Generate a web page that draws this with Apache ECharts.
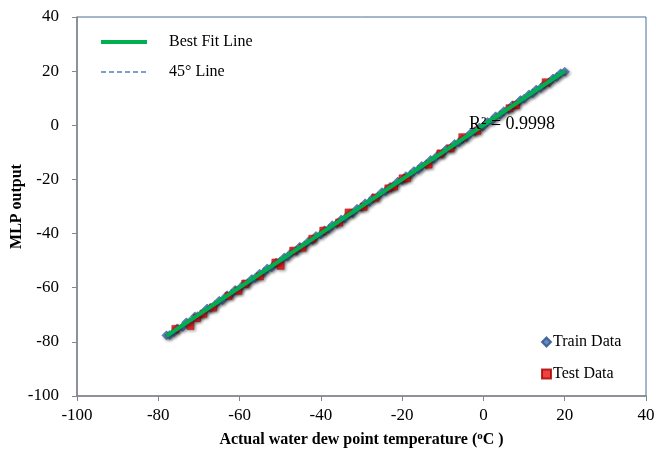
<!DOCTYPE html>
<html>
<head>
<meta charset="utf-8">
<script src="https://cdn.jsdelivr.net/npm/echarts@6/dist/echarts.min.js"></script>
<style>
  html, body { margin: 0; padding: 0; background: #fff; }
  #chart { width: 656px; height: 449px; }
</style>
</head>
<body>
<div id="chart"></div>
<script>
// Axis ticks
const xTicks = [-100, -80, -60, -40, -20, 0, 20, 40];
const yTicks = [-100, -80, -60, -40, -20, 0, 20, 40];

// Training set: [actual, predicted]
const trainData = [
  [-78.0, -77.6], [-77.2, -77.5], [-76.1, -76.4], [-75.3, -75.0], [-74.0, -74.5],
  [-73.1, -72.8], [-72.2, -72.6], [-71.0, -70.6], [-70.3, -70.5], [-69.1, -69.4],
  [-68.0, -67.7], [-67.2, -67.5], [-66.1, -66.4], [-65.0, -64.8], [-64.2, -64.6],
  [-63.1, -62.8], [-62.0, -62.3], [-61.1, -60.8], [-60.2, -60.6], [-59.0, -58.7],
  [-58.1, -58.4], [-57.0, -56.8], [-56.2, -56.5], [-55.1, -54.8], [-54.0, -54.3],
  [-53.2, -52.9], [-52.1, -52.5], [-51.0, -50.7], [-50.1, -50.4], [-49.0, -48.8],
  [-48.2, -48.5], [-47.1, -46.8], [-46.0, -46.3], [-45.2, -44.9], [-44.1, -44.4],
  [-43.0, -42.8], [-42.1, -42.4], [-41.2, -40.9], [-40.0, -40.3], [-39.1, -38.8],
  [-38.0, -38.3], [-37.2, -36.9], [-36.1, -36.4], [-35.0, -34.8], [-34.1, -34.4],
  [-33.0, -32.7], [-32.2, -32.5], [-31.1, -30.8], [-30.0, -30.3], [-29.1, -28.8],
  [-28.0, -28.3], [-27.2, -26.9], [-26.1, -26.4], [-25.0, -24.7], [-24.1, -24.4],
  [-23.0, -22.8], [-22.2, -22.5], [-21.1, -20.8], [-20.0, -20.3], [-19.1, -18.8],
  [-18.0, -18.3], [-17.1, -16.9], [-16.0, -16.3], [-15.2, -15.0], [-14.1, -14.4],
  [-13.0, -12.8], [-12.1, -12.4], [-11.0, -10.7], [-10.2, -10.5], [-9.1, -8.8],
  [-8.0, -8.3], [-7.1, -6.9], [-6.0, -6.3], [-5.2, -5.0], [-4.1, -4.4],
  [-3.0, -2.7], [-2.1, -2.4], [-1.0, -0.8], [-0.1, -0.4], [1.0, 1.2],
  [2.1, 1.8], [3.0, 3.3], [4.1, 3.8], [5.0, 5.2], [6.2, 5.9],
  [7.1, 7.4], [8.0, 7.7], [9.1, 9.3], [10.0, 9.8], [11.2, 11.4],
  [12.1, 11.8], [13.0, 13.2], [14.1, 13.8], [15.0, 15.2], [16.2, 15.9],
  [17.1, 17.3], [18.0, 17.8], [19.0, 19.2], [20.0, 19.8]
];

// Test set: [actual, predicted]
const testData = [
  [-75.8, -75.2], [-72.1, -74.1], [-70.5, -71.2], [-68.9, -69.6], [-66.5, -67.3],
  [-62.7, -63.0], [-60.3, -61.1], [-58.6, -58.5], [-55.0, -55.8], [-51.2, -50.7],
  [-49.9, -51.9], [-46.8, -46.3], [-44.5, -45.2], [-42.1, -41.9], [-39.4, -38.9],
  [-35.5, -35.9], [-33.2, -32.2], [-29.5, -30.1], [-26.6, -26.7], [-23.4, -23.3],
  [-22.0, -22.6], [-19.9, -19.6], [-18.8, -19.5], [-13.5, -14.5], [-10.6, -10.4],
  [-8.1, -8.5], [-5.2, -4.4], [-1.5, -2.0], [6.4, 6.3], [8.0, 7.5], [15.3, 15.9]
];

// Fitted regression line and the identity (45°) line
const fitLine = [[-78.0, -77.9], [20.0, 20.0]];
const identityLine = [[-78.0, -78.0], [20.0, 20.0]];
const r2Text = 'R² = 0.9998';

const serif = '"Liberation Serif", "Times New Roman", serif';
const axisGray = '#868686';
const fitGreen = '#00b050';
const identityBlue = '#4f81bd';

const chart = echarts.init(document.getElementById('chart'), null, { renderer: 'canvas' });

const markerShadow = {
  shadowBlur: 3,
  shadowColor: 'rgba(0,0,0,0.45)',
  shadowOffsetX: 1.5,
  shadowOffsetY: 1.5
};

chart.setOption({
  animation: false,
  backgroundColor: '#fff',
  textStyle: { fontFamily: serif },
  grid: {
    left: 77, right: 10, top: 17, bottom: 53,
    outerBoundsMode: 'none',
    containLabel: false,
    show: true,
    borderColor: '#4a6d99',
    borderWidth: 1,
    backgroundColor: '#fff'
  },
  xAxis: {
    type: 'value',
    min: xTicks[0], max: xTicks[xTicks.length - 1], interval: 20,
    name: '{a|Actual water dew point temperature (}{s|o}{a|C )}',
    nameLocation: 'middle',
    nameGap: 35,
    nameMoveOverlap: false,
    nameTextStyle: {
      rich: {
        a: { fontFamily: serif, fontSize: 16, fontWeight: 'bold', color: '#000' },
        s: { fontFamily: serif, fontSize: 11, fontWeight: 'bold', color: '#000', verticalAlign: 'top', padding: [0, 0, 6, 0] }
      }
    },
    axisLine: { onZero: false, lineStyle: { color: axisGray, width: 1.5 } },
    axisTick: { show: true, inside: false, length: 5, lineStyle: { color: axisGray } },
    axisLabel: { fontFamily: serif, fontSize: 17, color: '#000', margin: 11 },
    splitLine: { show: false }
  },
  yAxis: {
    type: 'value',
    min: yTicks[0], max: yTicks[yTicks.length - 1], interval: 20,
    name: 'MLP output',
    nameLocation: 'middle',
    nameGap: 52,
    nameMoveOverlap: false,
    nameTextStyle: { fontFamily: serif, fontSize: 16, fontWeight: 'bold', color: '#000' },
    axisLine: { onZero: false, lineStyle: { color: axisGray, width: 1.5 } },
    axisTick: { show: true, inside: false, length: 5, lineStyle: { color: axisGray } },
    axisLabel: { fontFamily: serif, fontSize: 17, color: '#000', margin: 18 },
    splitLine: { show: false }
  },
  legend: [
    {
      orient: 'vertical',
      left: 94, top: 29,
      itemWidth: 46, itemHeight: 14,
      itemGap: 14,
      itemStyle: { opacity: 0 },
      data: [
        { name: 'Best Fit Line', lineStyle: { color: fitGreen, width: 4 } },
        { name: '45° Line', lineStyle: { color: identityBlue, width: 1.3, type: [5, 3] } }
      ],
      textStyle: { fontFamily: serif, fontSize: 16, color: '#000', padding: [0, 0, 0, 17] }
    },
    {
      orient: 'vertical',
      left: 536, top: 329,
      itemWidth: 9, itemHeight: 9,
      itemGap: 16,
      data: [
        { name: 'Train Data', icon: 'diamond' },
        { name: 'Test Data', icon: 'rect' }
      ],
      textStyle: { fontFamily: serif, fontSize: 16, color: '#000', padding: [0, 0, 0, -3] }
    }
  ],
  graphic: [
    {
      type: 'text',
      left: 469, top: 115,
      z: 20,
      style: { text: r2Text, font: '18px ' + serif, fill: '#000' }
    }
  ],
  series: [
    {
      name: 'Train Data',
      type: 'scatter',
      data: trainData,
      symbol: 'diamond',
      symbolSize: 9,
      itemStyle: Object.assign({ color: '#3d6cb0', borderColor: '#2b4f85', borderWidth: 0.6 }, markerShadow),
      z: 2
    },
    {
      name: 'Test Data',
      type: 'scatter',
      data: testData,
      symbol: 'rect',
      symbolSize: 7,
      itemStyle: Object.assign({ color: '#ee1111', borderColor: '#a00000', borderWidth: 0.6 }, markerShadow),
      z: 3
    },
    {
      name: '45° Line',
      type: 'line',
      data: identityLine,
      symbol: 'none',
      lineStyle: { color: identityBlue, width: 1.2, type: [4, 3] },
      itemStyle: { color: identityBlue },
      z: 4
    },
    {
      name: 'Best Fit Line',
      type: 'line',
      data: fitLine,
      symbol: 'none',
      lineStyle: {
        color: fitGreen, width: 4,
        shadowBlur: 3, shadowColor: 'rgba(0,0,0,0.35)', shadowOffsetX: 1.5, shadowOffsetY: 1.5
      },
      itemStyle: { color: fitGreen },
      z: 5
    }
  ]
});
</script>
</body>
</html>
